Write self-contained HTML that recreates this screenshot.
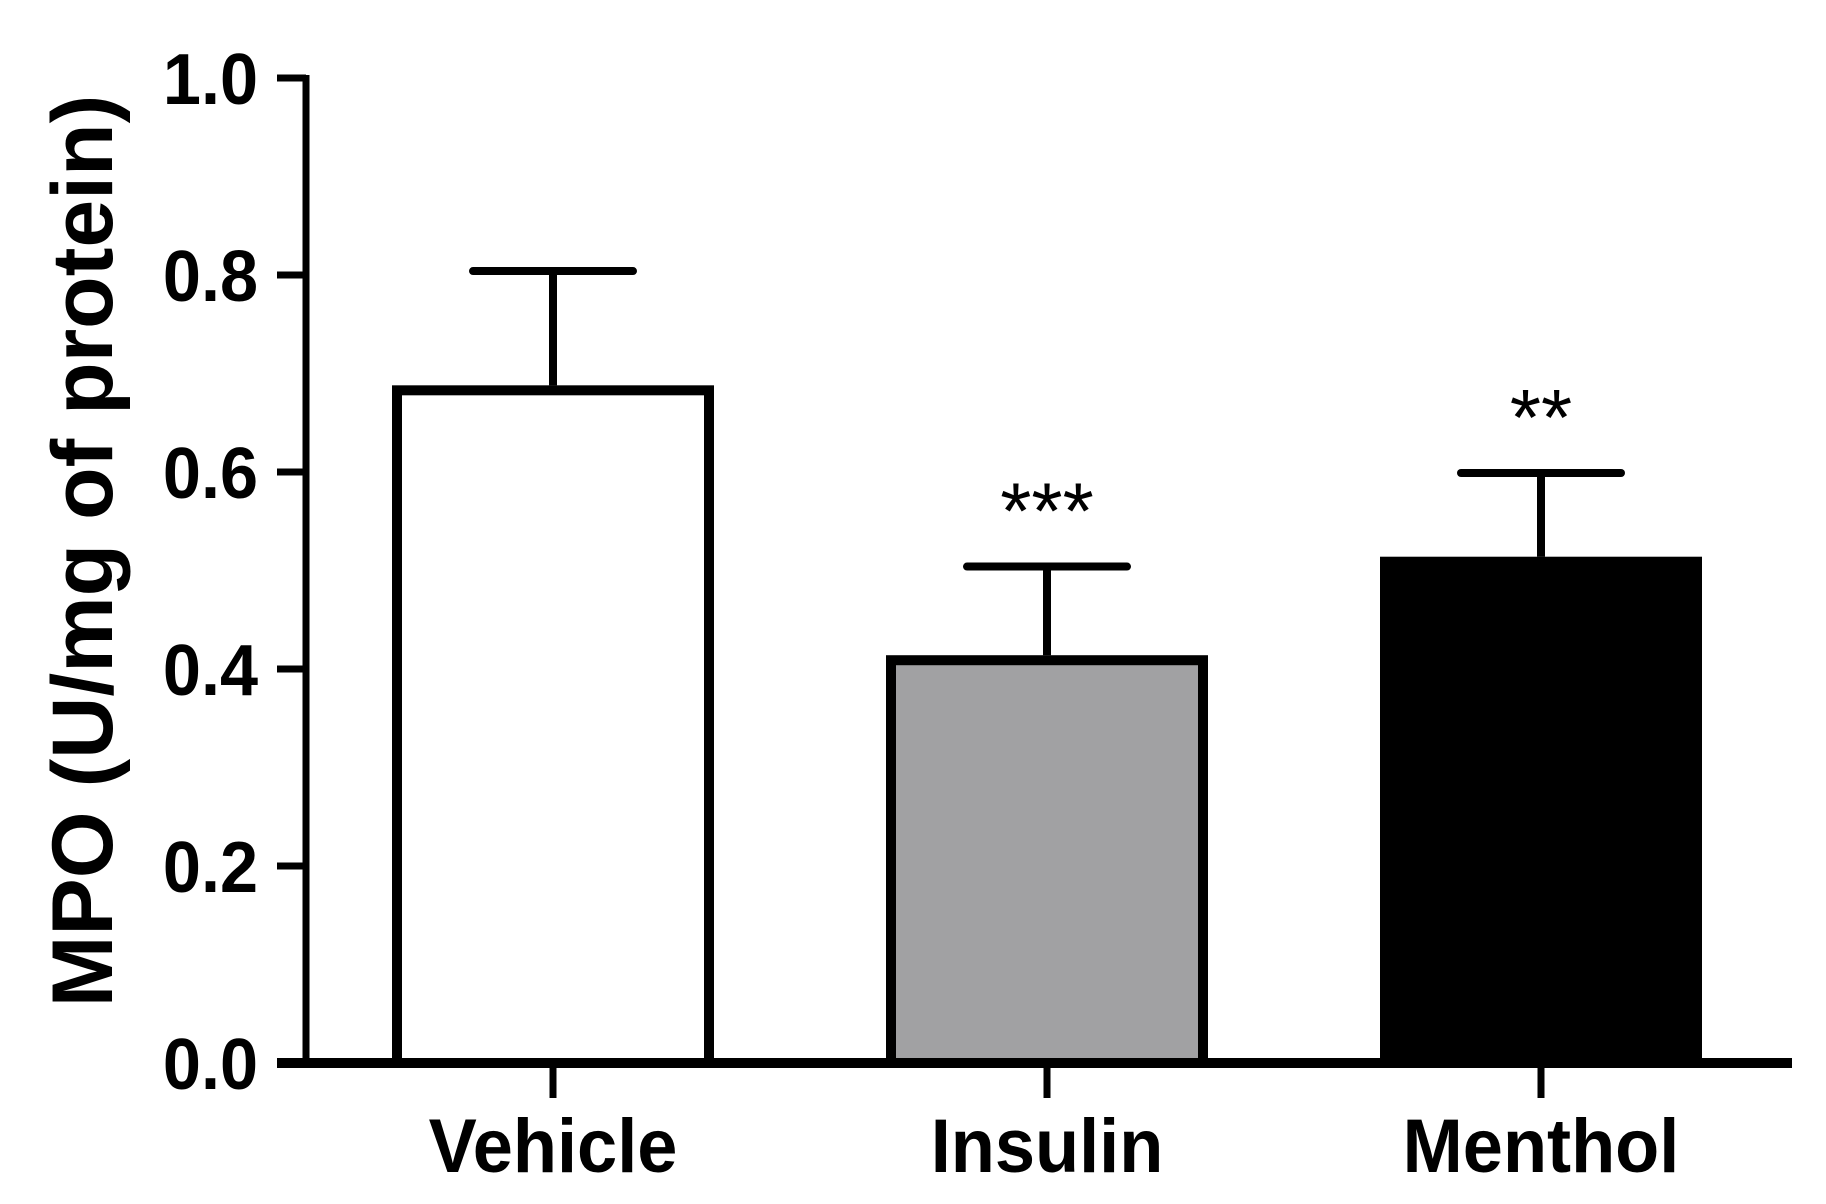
<!DOCTYPE html>
<html><head><meta charset="utf-8"><style>
html,body{margin:0;padding:0;background:#fff}
svg{display:block}
text{font-family:"Liberation Sans",Arial,sans-serif;font-weight:bold;fill:#000}
text.star{font-weight:normal}
</style></head><body>
<svg id="chart" width="1826" height="1204" viewBox="0 0 1826 1204" xmlns="http://www.w3.org/2000/svg">
<rect width="1826" height="1204" fill="#fff"/>
<g id="plot"></g>
<text transform="translate(112,551) rotate(-90)" text-anchor="middle" font-size="86">MPO (U/mg of protein)</text>
</svg>
<script>
const categories = ["Vehicle", "Insulin", "Menthol"];
const means = [0.688, 0.414, 0.514];
const errors = [0.116, 0.090, 0.085];
const signif = ["", "***", "**"];
const tickValues = [0, 0.2, 0.4, 0.6, 0.8, 1.0];
const tickLabels = ["0.0", "0.2", "0.4", "0.6", "0.8", "1.0"];
const fills = ["#ffffff", "#a1a1a3", "#000000"];

const NS = "http://www.w3.org/2000/svg";
const g = document.getElementById("plot");
const y0 = 1063, yTop = 78;
const yScale = v => y0 - v * (y0 - yTop);
const xCenter0 = 553, xStep = 494;
const xScale = i => xCenter0 + i * xStep;
const barW = 322, capHalf = 80;
function mk(tag, attrs) { const e = document.createElementNS(NS, tag); for (const k in attrs) e.setAttribute(k, attrs[k]); g.appendChild(e); return e; }

categories.forEach((c, i) => {
  const cx = xScale(i), top = yScale(means[i]), capY = yScale(means[i] + errors[i]);
  const stem = mk("line", {x1: cx, x2: cx, y1: top, y2: capY, stroke: "#000", "stroke-width": 8});
  
  
  const cap = mk("line", {x1: cx - capHalf, x2: cx + capHalf, y1: capY, y2: capY, stroke: "#000", "stroke-width": 8, "stroke-linecap": "round"});
  
  
  const bar = mk("rect", {x: cx - barW / 2 + 5, y: top + 5, width: barW - 10, height: y0 - top - 5, fill: fills[i], stroke: "#000", "stroke-width": 10});
  
  
  if (signif[i]) {
    const s = mk("text", {x: cx, y: capY - 28, "text-anchor": "middle", "font-size": 80, "class": "star"});
    s.textContent = signif[i];
    
    
  }
  const tk = mk("line", {x1: cx, x2: cx, y1: y0, y2: y0 + 35, stroke: "#000", "stroke-width": 7});
  
  
  const lb = mk("text", {transform: "translate(" + cx + ",1172) scale(0.95,1)", "text-anchor": "middle", "font-size": 76});
  lb.textContent = c;
  
  
});

tickValues.forEach((v, i) => {
  const y = yScale(v);
  const t = mk("line", {x1: 277, x2: 306, y1: y, y2: y, stroke: "#000", "stroke-width": 7});
  
  
  const l = mk("text", {transform: "translate(258," + (y + 26) + ") scale(0.95,1)", "text-anchor": "end", "font-size": 72});
  l.textContent = tickLabels[i];
  
  
});

const ya = mk("line", {x1: 306, x2: 306, y1: yTop - 3, y2: y0, stroke: "#000", "stroke-width": 7});


const xa = mk("line", {x1: 277, x2: 1792, y1: y0, y2: y0, stroke: "#000", "stroke-width": 10});


</script>
</body></html>
